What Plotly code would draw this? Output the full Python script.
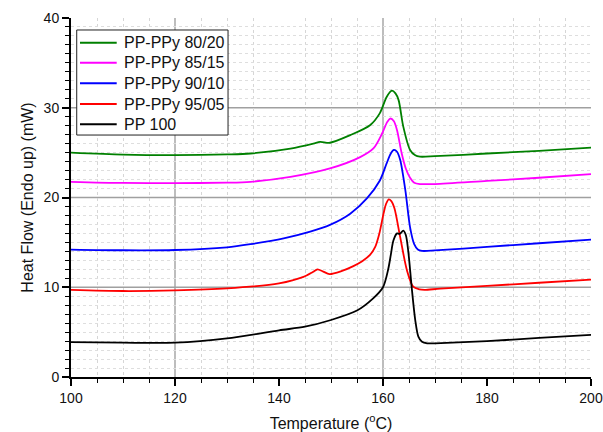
import plotly.graph_objects as go

# ---- data ----
names = ["PP-PPy 80/20", "PP-PPy 85/15", "PP-PPy 90/10", "PP-PPy 95/05", "PP 100"]
colors = ["#008000", "#ff00ff", "#0000ff", "#ff0000", "#000000"]

t_8020 = [100, 110, 120, 130, 134.5, 142.2, 146.6, 147.9, 149.8, 153.7, 157.5, 159.4, 160.7, 161.7, 162.4, 163, 163.9, 165.2, 166.2, 167.1, 170, 180, 190, 200]
v_8020 = [25.0, 24.78, 24.72, 24.8, 24.9, 25.45, 26.0, 26.2, 26.1, 26.95, 28.05, 29.4, 31.2, 31.9, 31.6, 30.85, 27.9, 25.3, 24.7, 24.55, 24.6, 24.9, 25.2, 25.55]

t_8515 = [100, 110, 120, 130, 134.5, 142.2, 149.8, 155.6, 158.2, 159.8, 160.8, 161.4, 162.1, 162.7, 163.6, 164.4, 165.2, 166, 167.1, 170, 180, 190, 200]
v_8515 = [21.75, 21.62, 21.6, 21.65, 21.75, 22.3, 23.24, 24.5, 25.5, 27.1, 28.4, 28.8, 28.5, 27.5, 24.9, 23.2, 22.2, 21.65, 21.5, 21.5, 21.85, 22.2, 22.6]

t_9010 = [100, 110, 120, 130, 134.5, 140.9, 146, 149.8, 153.7, 156.9, 159.4, 160.7, 161.5, 162.1, 162.7, 163.3, 164.3, 165.2, 166, 166.7, 167.5, 170, 180, 190, 200]
v_9010 = [14.2, 14.12, 14.15, 14.45, 14.8, 15.45, 16.2, 16.95, 18.2, 19.9, 21.9, 23.8, 24.9, 25.3, 25.1, 24.2, 20.8, 16.7, 14.8, 14.2, 14.05, 14.1, 14.5, 14.9, 15.3]

t_9505 = [100, 110, 120, 130, 140, 144.7, 146.5, 147.4, 148.5, 149.7, 152, 154.3, 156, 157.5, 158.5, 159.3, 160.1, 160.6, 161.1, 161.6, 162.2, 163.3, 164.6, 165.8, 167, 168, 171, 180, 190, 200]
v_9505 = [9.7, 9.58, 9.65, 9.88, 10.43, 11.15, 11.7, 12.0, 11.75, 11.47, 11.8, 12.36, 12.9, 13.6, 14.5, 16.0, 18.2, 19.3, 19.8, 19.6, 18.8, 15.6, 11.9, 10.06, 9.75, 9.7, 9.85, 10.15, 10.5, 10.85]

t_pp = [100, 110, 120, 130, 140, 145, 150, 155, 158, 160, 161, 161.5, 162, 162.7, 163.2, 163.9, 164.4, 164.9, 165.5, 166.2, 166.8, 167.5, 168.5, 170, 180, 190, 200]
v_pp = [3.88, 3.82, 3.82, 4.3, 5.2, 5.6, 6.35, 7.4, 8.7, 10.0, 12.0, 13.6, 15.2, 16.0, 15.95, 16.3, 15.8, 13.8, 10.1, 6.35, 4.5, 3.93, 3.75, 3.75, 4.0, 4.35, 4.7]

series_t = [t_8020, t_8515, t_9010, t_9505, t_pp]
series_v = [v_8020, v_8515, v_9010, v_9505, v_pp]

x_major_grid = [120, 160]
y_major_grid = [10, 20, 30]

FONT = "Liberation Sans, Arial, sans-serif"

fig = go.Figure()
for n, c, t, v in zip(names, colors, series_t, series_v):
    fig.add_trace(go.Scatter(x=t, y=v, name=n, mode="lines", showlegend=False,
                             line=dict(color=c, width=1.8, shape="spline", smoothing=0.8)))

shapes = []
for xv in x_major_grid:
    shapes.append(dict(type="line", xref="x", yref="paper", x0=xv, x1=xv, y0=0, y1=1,
                       line=dict(color="#9a9a9a" if xv == 120 else "#bdbdbd", width=1.3 if xv == 120 else 2),
                       layer="below"))
for yv in y_major_grid:
    shapes.append(dict(type="line", xref="paper", yref="y", x0=0, x1=1, y0=yv, y1=yv,
                       line=dict(color="#a0a0a0", width=1.3), layer="below"))

# legend box (drawn as shapes + text annotations to match spacing)
shapes.append(dict(type="rect", xref="paper", yref="paper", x0=0.011, x1=0.302, y0=0.674, y1=0.9666,
                   fillcolor="white", line=dict(color="#222", width=1), layer="above"))
row_y = [0.9312, 0.8755, 0.8181, 0.7604, 0.7039]
annotations = []
for n, c, ry in zip(names, colors, row_y):
    shapes.append(dict(type="line", xref="paper", yref="paper", x0=0.0173, x1=0.0879, y0=ry, y1=ry,
                       line=dict(color=c, width=2), layer="above"))
    annotations.append(dict(xref="paper", yref="paper", x=0.0975, y=ry, text=n, showarrow=False,
                            xanchor="left", yanchor="middle",
                            font=dict(family=FONT, size=16, color="#111")))

fig.update_layout(
    width=603, height=432,
    margin=dict(l=71, r=12, t=18, b=55),
    paper_bgcolor="white", plot_bgcolor="white",
    font=dict(family=FONT, size=14, color="#111"),
    shapes=shapes, annotations=annotations,
    showlegend=False,
    xaxis=dict(range=[100, 200], dtick=20, tick0=100, showgrid=False, zeroline=False, automargin=False,
               showline=True, linecolor="black", linewidth=2, ticklabeloverflow="allow",
               ticks="outside", ticklen=7, tickwidth=1.5, tickcolor="black",
               minor=dict(dtick=5, ticks="outside", ticklen=4, tickwidth=1.2, tickcolor="black",
                          showgrid=True, gridcolor="#d6d6d6", griddash="dot", gridwidth=1),
               title=dict(text="Temperature (<sup>o</sup>C)", font=dict(size=16), standoff=14)),
    yaxis=dict(range=[0, 40], dtick=10, tick0=0, showgrid=False, zeroline=False, automargin=False,
               showline=True, linecolor="black", linewidth=2,
               ticks="outside", ticklen=7, tickwidth=1.5, tickcolor="black",
               minor=dict(dtick=1, ticks="outside", ticklen=4, tickwidth=1.2, tickcolor="black",
                          showgrid=True, gridcolor="#dedede", griddash="dot", gridwidth=1),
               title=dict(text="Heat Flow (Endo up) (mW)", font=dict(size=16), standoff=6)),
)

# remove the default 8px page margin so the figure sits at the window origin
fig.write_html("out.html", config={"displayModeBar": False},
               post_script="document.body.style.margin='0';document.body.style.overflow='hidden';")
